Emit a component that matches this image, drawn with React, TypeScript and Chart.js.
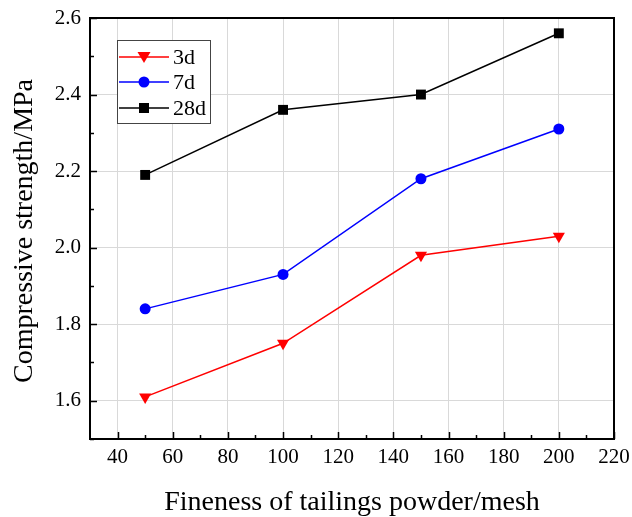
import React, { useEffect, useRef } from "react";
import { Chart, registerables } from "chart.js";

Chart.register(...registerables);

const fineness = [50, 100, 150, 200];
const s3d = [1.61, 1.75, 1.98, 2.03];
const s7d = [1.84, 1.93, 2.18, 2.31];
const s28d = [2.19, 2.36, 2.4, 2.56];
const xTicks = [40, 60, 80, 100, 120, 140, 160, 180, 200, 220];
const xMinor = [50, 70, 90, 110, 130, 150, 170, 190, 210];
const yTicks = [1.6, 1.8, 2.0, 2.2, 2.4, 2.6];
const yMinor = [1.5, 1.7, 1.9, 2.1, 2.3, 2.5];
const seriesNames = ["3d", "7d", "28d"];
const seriesColors = ["#ff0000", "#0000ff", "#000000"];
const xTitle = "Fineness of tailings powder/mesh";
const yTitle = "Compressive strength/MPa";

const FONT = "'Liberation Serif', 'Times New Roman', serif";

function drawMarker(ctx: CanvasRenderingContext2D, kind: number, x: number, y: number, color: string) {
  ctx.save();
  ctx.fillStyle = color;
  ctx.beginPath();
  if (kind === 0) {
    ctx.moveTo(x - 6.5, y - 5);
    ctx.lineTo(x + 6.5, y - 5);
    ctx.lineTo(x, y + 6);
    ctx.closePath();
  } else if (kind === 1) {
    ctx.arc(x, y, 5.5, 0, Math.PI * 2);
  } else {
    ctx.rect(x - 5, y - 5, 10, 10);
  }
  ctx.fill();
  ctx.restore();
}

const framePlugin = {
  id: "frame",
  afterDraw(chart: any) {
    const { ctx, chartArea } = chart;
    const { left, right, top, bottom } = chartArea;
    const xs = chart.scales.x;
    const ys = chart.scales.y;
    ctx.save();
    ctx.strokeStyle = "#000";
    ctx.lineWidth = 1.5;
    ctx.beginPath();
    xTicks.forEach((v) => {
      const px = Math.round(xs.getPixelForValue(v)) + 0.5;
      ctx.moveTo(px, bottom);
      ctx.lineTo(px, bottom - 7);
    });
    xMinor.forEach((v) => {
      const px = Math.round(xs.getPixelForValue(v)) + 0.5;
      ctx.moveTo(px, bottom);
      ctx.lineTo(px, bottom - 4);
    });
    yTicks.forEach((v) => {
      const py = Math.round(ys.getPixelForValue(v)) + 0.5;
      ctx.moveTo(left, py);
      ctx.lineTo(left + 7, py);
    });
    yMinor.forEach((v) => {
      const py = Math.round(ys.getPixelForValue(v)) + 0.5;
      ctx.moveTo(left, py);
      ctx.lineTo(left + 4, py);
    });
    ctx.stroke();
    ctx.lineWidth = 2;
    ctx.strokeRect(left, top, right - left, bottom - top);

    // legend
    const lx = 117, ly = 40, lw = 93, lh = 83;
    ctx.fillStyle = "#fff";
    ctx.fillRect(lx, ly, lw, lh);
    ctx.strokeStyle = "#444";
    ctx.lineWidth = 1;
    ctx.strokeRect(lx + 0.5, ly + 0.5, lw, lh);
    const rows = [57, 82, 108];
    ctx.font = "22px " + FONT;
    ctx.textBaseline = "middle";
    ctx.textAlign = "left";
    seriesNames.forEach((n, i) => {
      const y = rows[i];
      ctx.strokeStyle = seriesColors[i];
      ctx.lineWidth = 1.5;
      ctx.beginPath();
      ctx.moveTo(119, y);
      ctx.lineTo(169, y);
      ctx.stroke();
      drawMarker(ctx, i, 144, y, seriesColors[i]);
      ctx.fillStyle = "#000";
      ctx.fillText(n, 173, y + 1);
    });

    // axis titles
    ctx.fillStyle = "#000";
    ctx.font = "28px " + FONT;
    ctx.textAlign = "center";
    ctx.textBaseline = "alphabetic";
    ctx.fillText(xTitle, (left + right) / 2, 510);
    ctx.save();
    ctx.translate(32, 231);
    ctx.rotate(-Math.PI / 2);
    ctx.fillText(yTitle, 0, 0);
    ctx.restore();
    ctx.restore();
  },
};

export default function App() {
  const ref = useRef<HTMLCanvasElement>(null);
  useEffect(() => {
    if (!ref.current) return;
    const mk = (i: number, data: number[], style: string, rot: number, radius: number) => ({
      label: seriesNames[i],
      data: fineness.map((x, k) => ({ x, y: data[k] })),
      borderColor: seriesColors[i],
      backgroundColor: seriesColors[i],
      pointBackgroundColor: seriesColors[i],
      pointBorderColor: seriesColors[i],
      pointStyle: style,
      pointRotation: rot,
      pointRadius: radius,
      borderWidth: 1.5,
      pointBorderWidth: 0,
    });
    const chart = new Chart(ref.current, {
      type: "line",
      data: {
        datasets: [
          mk(0, s3d, "triangle", 180, 7),
          mk(1, s7d, "circle", 0, 5.5),
          mk(2, s28d, "rect", 0, 7),
        ] as any,
      },
      options: {
        responsive: false,
        animation: false,
        layout: { padding: { top: 18, right: 18, left: 0, bottom: 0 } },
        plugins: { legend: { display: false }, tooltip: { enabled: false } },
        scales: {
          x: {
            type: "linear",
            min: 30,
            max: 220,
            afterBuildTicks: (s: any) => {
              s.ticks = xTicks.map((v) => ({ value: v }));
            },
            afterFit: (s: any) => {
              s.height = 78;
              s.paddingLeft = 0;
              s.paddingRight = 0;
            },
            grid: { color: "#d9d9d9", lineWidth: 1, drawTicks: false },
            border: { display: false },
            ticks: {
              color: "#000",
              font: { family: FONT, size: 21 },
              padding: 6,
              maxRotation: 0,
              autoSkip: false,
            },
          },
          y: {
            type: "linear",
            min: 1.5,
            max: 2.6,
            afterBuildTicks: (s: any) => {
              s.ticks = yTicks.map((v) => ({ value: v }));
            },
            afterFit: (s: any) => {
              s.width = 90;
              s.paddingTop = 0;
              s.paddingBottom = 0;
            },
            grid: { color: "#d9d9d9", lineWidth: 1, drawTicks: false },
            border: { display: false },
            ticks: {
              color: "#000",
              font: { family: FONT, size: 21 },
              padding: 9,
              autoSkip: false,
              callback: (v: any) => Number(v).toFixed(1),
            },
          },
        },
      },
      plugins: [framePlugin],
    });
    return () => chart.destroy();
  }, []);
  return (
    <div style={{ position: "fixed", left: 0, top: 0, width: 632, height: 517, background: "#fff" }}>
      <canvas ref={ref} width={632} height={517} />
    </div>
  );
}
